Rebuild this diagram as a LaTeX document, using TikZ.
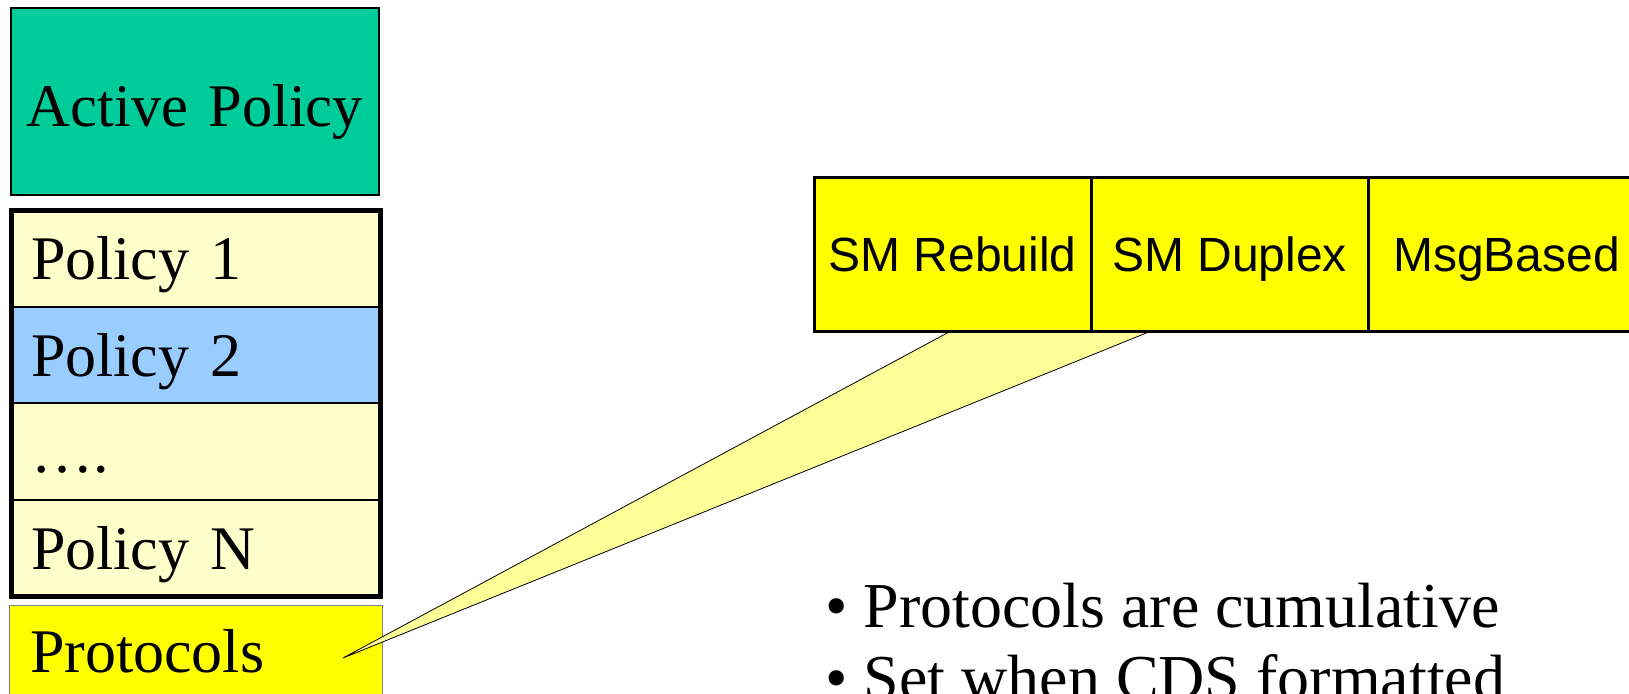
\documentclass[tikz,border=0pt]{standalone}
\usepackage{fontspec}
\setmainfont{Liberation Serif}
\newfontfamily\arialfont{Liberation Sans}
\usepackage{xcolor}
\usetikzlibrary{positioning}

\definecolor{activeteal}{HTML}{00CC99}
\definecolor{polcream}{HTML}{FFFFCC}
\definecolor{polblue}{HTML}{99CCFF}
\definecolor{protoyellow}{HTML}{FFFF00}
\definecolor{calloutyellow}{HTML}{FFFF99}

\tikzset{
    bigserif/.style={font=\fontsize{62}{72}\selectfont},
    polbox/.style={draw, line width=2pt, bigserif, anchor=north west,
        minimum width=369pt, minimum height=96.5pt, inner xsep=19.5pt, inner ysep=0pt,
        outer sep=0pt, text width=330pt, align=left, text height=42pt, text depth=0pt},
    protobox/.style={draw, line width=3pt, fill=protoyellow, anchor=north west,
        minimum width=277pt, minimum height=154pt, inner sep=0pt, outer sep=0pt,
        font=\arialfont\fontsize{48}{56}\selectfont, text height=35pt, text depth=0pt},
    bulletline/.style={bigserif, font=\fontsize{64}{72}\selectfont, anchor=base west, inner sep=0pt}
}

\begin{document}
\begin{tikzpicture}[x=1pt, y=1pt, node distance=0pt]
    \useasboundingbox (0,0) rectangle (1629,693);

    % Active policy
    \node[draw, line width=1.5pt, fill=activeteal, font=\fontsize{60.5}{72}\selectfont, anchor=north west,
        minimum width=368pt, minimum height=187pt, inner xsep=16pt, inner ysep=0pt,
        outer sep=0pt, text width=336pt, align=left, text height=51pt, text depth=0pt]
        (active) at (11,685) {\mbox{Active Policy}};

    % Policy stack
    \foreach \i/\txt/\col [count=\k from 0] in {1/Policy 1/polcream, 2/Policy 2/polblue, 3/…./polcream, N/Policy N/polcream} {
        \node[polbox, fill=\col] (pol\i) at (11.5,{482.5-96.5*\k}) {\txt};
    }
    \draw[line width=5pt] (pol1.north west) rectangle (polN.south east);

    % Protocols
    \node[draw=gray, line width=1pt, fill=protoyellow, bigserif, anchor=north west,
        minimum width=373pt, minimum height=90pt, inner xsep=20.5pt, inner ysep=0pt,
        outer sep=0pt, text width=332pt, align=left, text height=42pt, text depth=0pt]
        (proto) at (9.5,87) {Protocols};

    % Callout
    \coordinate (tip) at (343,35);
    \coordinate (calA) at (950,361.5);
    \coordinate (calB) at (1150,361.5);
    \fill[calloutyellow] (calA) -- (tip) -- (calB) -- cycle;
    \draw[line width=0.8pt] (calA) -- (tip) -- (calB);

    % Protocol kinds
    \node[protobox] (rebuild) at (814,515.5) {SM Rebuild};
    \node[protobox, right=of rebuild] (duplex) {SM Duplex};
    \node[protobox, right=of duplex] (msgbased) {MsgBased};

    % Notes
    \node[bulletline] (bul1) at (825,66) {• Protocols are cumulative};
    \node[bulletline] (bul2) at ([yshift=-72pt]bul1.base west) {• Set when CDS formatted};
\end{tikzpicture}
\end{document}
